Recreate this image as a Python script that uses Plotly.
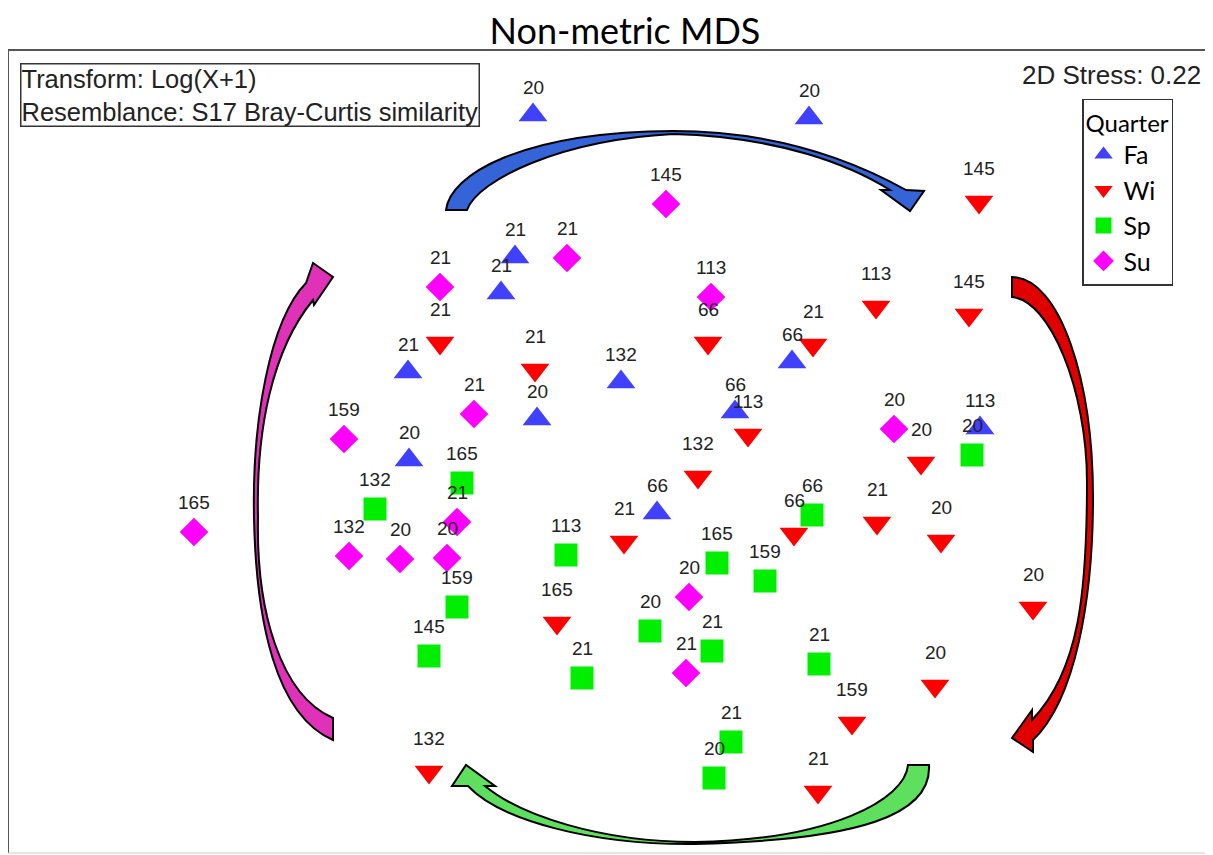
import plotly.graph_objects as go

# ---- data (MDS ordination coordinates, arbitrary units) ----
fa_x = [533, 809, 515, 501, 408, 621, 537, 792, 735, 409, 657, 980]
fa_y = [115, 118, 257, 293, 372, 382, 419, 362, 412, 460, 513, 428]
fa_lab = ["20", "20", "21", "21", "21", "132", "20", "66", "66", "20", "66", "113"]

wi_x = [979, 876, 969, 440, 535, 708, 813, 748, 921, 698, 624, 794, 877, 941, 557, 1033, 935, 852, 429, 818]
wi_y = [202, 307, 315, 343, 370, 343, 345, 435, 463, 477, 542, 534, 523, 541, 623, 608, 686, 723, 772, 792]
wi_lab = ["145", "113", "145", "21", "21", "66", "21", "113", "20", "132", "21", "66", "21", "20", "165", "20", "20", "159", "132", "21"]

sp_x = [462, 375, 566, 972, 812, 717, 765, 457, 429, 650, 712, 582, 819, 731, 714]
sp_y = [483, 509, 555, 455, 515, 563, 581, 607, 656, 631, 651, 678, 664, 742, 778]
sp_lab = ["165", "132", "113", "20", "66", "165", "159", "159", "145", "20", "21", "21", "21", "21", "20"]

su_x = [666, 567, 440, 711, 474, 344, 894, 194, 457, 349, 400, 447, 689, 686]
su_y = [204, 258, 287, 297, 414, 439, 429, 532, 522, 556, 559, 558, 597, 673]
su_lab = ["145", "21", "21", "113", "21", "159", "20", "165", "21", "132", "20", "20", "20", "21"]

groups = [
    ("Fa", fa_x, fa_y, fa_lab, "triangle-up", "#4040ff", 25, 28),
    ("Wi", wi_x, wi_y, wi_lab, "triangle-down", "#ff0000", 25, 34),
    ("Sp", sp_x, sp_y, sp_lab, "square", "#00ee00", 23, 30),
    ("Su", su_x, su_y, su_lab, "diamond", "#ff00ff", 22, 30),
]

fig = go.Figure()
annotations = []
for name, xs, ys, labs, sym, col, size, shift in groups:
    fig.add_trace(go.Scatter(
        x=xs, y=ys, mode="markers", name=name,
        marker=dict(symbol=sym, color=col, size=size, line=dict(width=0)),
        hoverinfo="skip",
    ))
    for xv, yv, lb in zip(xs, ys, labs):
        annotations.append(dict(
            x=xv, y=yv, xref="x", yref="y", text=lb, showarrow=False,
            yshift=shift, font=dict(family="Liberation Sans, Arial", size=19, color="#222222"),
        ))

# info box and stress
annotations.append(dict(
    x=0.0099, y=0.9838, xref="paper", yref="paper", xanchor="left", yanchor="top",
    text="Transform: Log(X+1)<br>Resemblance: S17 Bray-Curtis similarity",
    showarrow=False, align="left",
    font=dict(family="Liberation Sans, Arial", size=25.5, color="#222222"),
    bordercolor="#333333", borderwidth=1.5, borderpad=0, bgcolor="white",
))
annotations.append(dict(
    x=0.9917, y=0.9689, xref="paper", yref="paper", xanchor="right", yanchor="middle",
    text="2D Stress: 0.22", showarrow=False,
    font=dict(family="Liberation Sans, Arial", size=26, color="#222222"),
))

# curved block arrows (decoration)
blue_path = ("M 446,210 C 450,175 520,132 673,131 C 790,131 870,170 906,190 "
             "L 924,191 L 910,211 L 881,190 L 890,190 "
             "C 850,165 780,137 673,134 C 560,140 478,180 467,210 Z")
red_path = ("M 1012,277 L 1012,297 C 1050,300 1087,390 1087,482 "
            "C 1087,590 1080,670 1032,720 L 1032,710 L 1012,738 L 1033,752 L 1033,740 "
            "C 1075,700 1093,600 1093,498 C 1093,380 1060,278 1012,277 Z")
green_path = ("M 908,765 L 929,765 C 932,815 860,840 695,844 C 590,845 500,820 468,786 "
              "L 452,786 L 466,765 L 495,786 L 485,786 "
              "C 520,815 600,842 695,842 C 830,840 905,800 908,765 Z")
pink_path = ("M 333,740 L 333,718 C 280,695 256,610 258,517 C 256,430 272,350 313,300 "
             "L 314,305 L 333,277 L 313,263 L 306,283 "
             "C 270,320 252,420 254,517 C 256,620 275,715 333,740 Z")

shapes = []
for p, c in [(blue_path, "#3464d8"), (red_path, "#e00000"),
             (green_path, "#5ee05e"), (pink_path, "#e032b8")]:
    shapes.append(dict(type="path", path=p, xref="x", yref="y",
                       fillcolor=c, line=dict(color="black", width=2), layer="above"))

# frame
shapes.append(dict(type="line", xref="paper", yref="paper", x0=0, x1=0, y0=0, y1=1,
                   line=dict(color="#555555", width=2)))
shapes.append(dict(type="line", xref="paper", yref="paper", x0=0, x1=1, y0=1, y1=1,
                   line=dict(color="#555555", width=2)))
shapes.append(dict(type="line", xref="paper", yref="paper", x0=0, x1=1, y0=0, y1=0,
                   line=dict(color="#cccccc", width=1)))

# the page body has an 8px margin, so the figure is 1205x847 placed at (8, 8)
fig.update_layout(
    width=1205, height=847,
    margin=dict(l=0, r=0, t=42, b=2),
    paper_bgcolor="white", plot_bgcolor="white",
    title=dict(text="Non-metric MDS", x=0.512, xanchor="center", xref="paper",
               y=1 - 23 / 847, yref="container", yanchor="middle",
               font=dict(family="Lato, Open Sans", size=36, color="black")),
    xaxis=dict(range=[8, 1213], visible=False, fixedrange=True),
    yaxis=dict(range=[853, 50], visible=False, fixedrange=True),
    showlegend=True,
    legend=dict(
        x=0.8913, y=0.939, xanchor="left", yanchor="top",
        bordercolor="#333333", borderwidth=1.5, bgcolor="white",
        title=dict(text="Quarter", font=dict(family="Lato, Open Sans", size=24, color="black")),
        font=dict(family="Lato, Open Sans", size=25, color="black"),
        itemsizing="trace", tracegroupgap=0,
    ),
    annotations=annotations,
    shapes=shapes,
)

fig.write_html("out.html")
